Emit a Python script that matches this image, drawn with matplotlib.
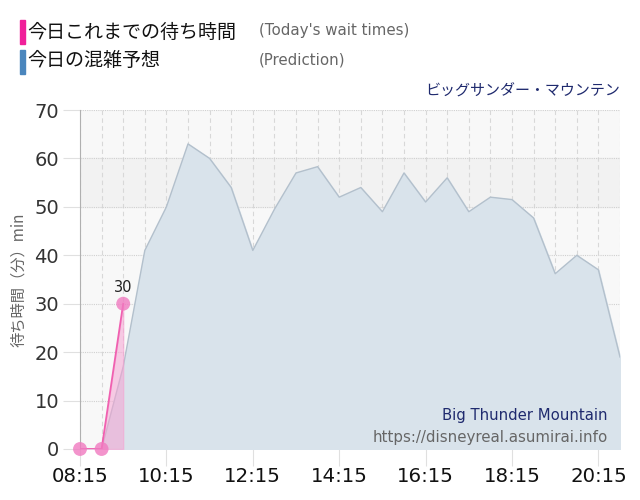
import matplotlib
matplotlib.use("Agg")
import matplotlib.pyplot as plt
from matplotlib.patches import Rectangle

plt.rcParams['font.family'] = ['DejaVu Sans', 'Noto Sans CJK JP']

# ---- data ----
pred_times = [8.25, 8.75, 9.25, 9.75, 10.25, 10.75, 11.25, 11.75, 12.25, 12.75, 13.25, 13.75,
              14.25, 14.75, 15.25, 15.75, 16.25, 16.75, 17.25, 17.75, 18.25, 18.75, 19.25,
              19.75, 20.25, 20.75]
pred_values = [0, 0, 17, 41, 50, 63, 60, 54, 41, 49.5, 57, 58.3, 52, 54, 49, 57, 51, 56,
               49, 52, 51.5, 47.7, 36.2, 40, 37, 19]
actual_times = [8.25, 8.75, 9.25]
actual_values = [0, 0, 30]
tick_hours = [8.25, 10.25, 12.25, 14.25, 16.25, 18.25, 20.25]
tick_labels = ["08:15", "10:15", "12:15", "14:15", "16:15", "18:15", "20:15"]
y_ticks = [0, 10, 20, 30, 40, 50, 60, 70]

fig = plt.figure(figsize=(6.4, 5.0), dpi=100)
ax = fig.add_axes([80/640, 1-449/500, 540/640, 339/500])
ax.set_xlim(8.25, 20.75)
ax.set_ylim(0, 70)
ax.set_facecolor('#f8f8f8')
ax.axhspan(50, 60, color='#f2f2f2', zorder=0)

# grid
for h in [8.25 + 0.5*i for i in range(26)]:
    ax.axvline(h, color='#d8d8d8', lw=0.8, ls=(0, (4, 3)), zorder=1)
for v in y_ticks:
    ax.axhline(v, color='#d0d0d0', lw=0.8, ls=(0, (1, 1)), zorder=1)

# prediction
ax.fill_between(pred_times, pred_values, 0, color='#d9e3eb', zorder=2)
ax.plot(pred_times, pred_values, color='#b3c0cc', lw=1.0, zorder=3)

# actual
ax.fill_between(actual_times, actual_values, 0, color='#f6a3d2', alpha=0.55, zorder=4)
ax.plot(actual_times, actual_values, color='#f060b0', lw=1.3, zorder=5)
ax.scatter(actual_times, actual_values, s=100, color='#f07ac0', alpha=0.8, zorder=6,
           clip_on=False, edgecolors='none')
ax.text(actual_times[-1], actual_values[-1] + 1.9, f"{actual_values[-1]}", ha='center',
        va='bottom', fontsize=10.5, color='#222222', zorder=7)

# axes styling
for s in ['top', 'right', 'bottom']:
    ax.spines[s].set_visible(False)
ax.spines['left'].set_color('#b0b0b0')
ax.set_xticks(tick_hours)
ax.set_xticklabels(tick_labels, fontsize=14.2, color='#111111')
ax.set_yticks(y_ticks)
ax.set_yticklabels([str(v) for v in y_ticks], fontsize=14, color='#333333')
ax.tick_params(axis='x', length=12, color='#e0e0e0', pad=1)
ax.tick_params(axis='y', length=12, color='#e0e0e0', pad=3)
ax.set_ylabel('待ち時間（分）min', family=['Noto Sans CJK JP', 'DejaVu Sans'],
              fontsize=11, color='#666666', labelpad=5)

# watermark
ax.text(0.977, 0.078, 'Big Thunder Mountain', transform=ax.transAxes, ha='right',
        va='bottom', fontsize=10.7, color='#1f2a6e', zorder=8)
ax.text(0.978, 0.013, 'https://disneyreal.asumirai.info', transform=ax.transAxes,
        ha='right', va='bottom', fontsize=10.8, color='#666666', zorder=8)

# legend header
fig.patches.append(Rectangle((20/640, 1-44/500), 5/640, 24/500, transform=fig.transFigure,
                             color='#f0209a'))
fig.patches.append(Rectangle((20/640, 1-74/500), 5/640, 24/500, transform=fig.transFigure,
                             color='#4a86bd'))
jp = ['Noto Sans CJK JP', 'DejaVu Sans']
fig.text(27/640, 1-32/500, '今日これまでの待ち時間', family=jp, fontsize=13.7,
         color='#111111', va='center')
fig.text(27/640, 1-61/500, '今日の混雑予想', family=jp, fontsize=13.7,
         color='#111111', va='center')
fig.text(259/640, 1-31/500, "(Today's wait times)", fontsize=10.8, color='#666666', va='center')
fig.text(259/640, 1-60/500, "(Prediction)", fontsize=10.8, color='#666666', va='center')
fig.text(620/640, 1-91/500, 'ビッグサンダー・マウンテン', family=jp, fontsize=10.8,
         color='#1f2a6e', ha='right', va='center')

fig.savefig('out.png', dpi=100)
